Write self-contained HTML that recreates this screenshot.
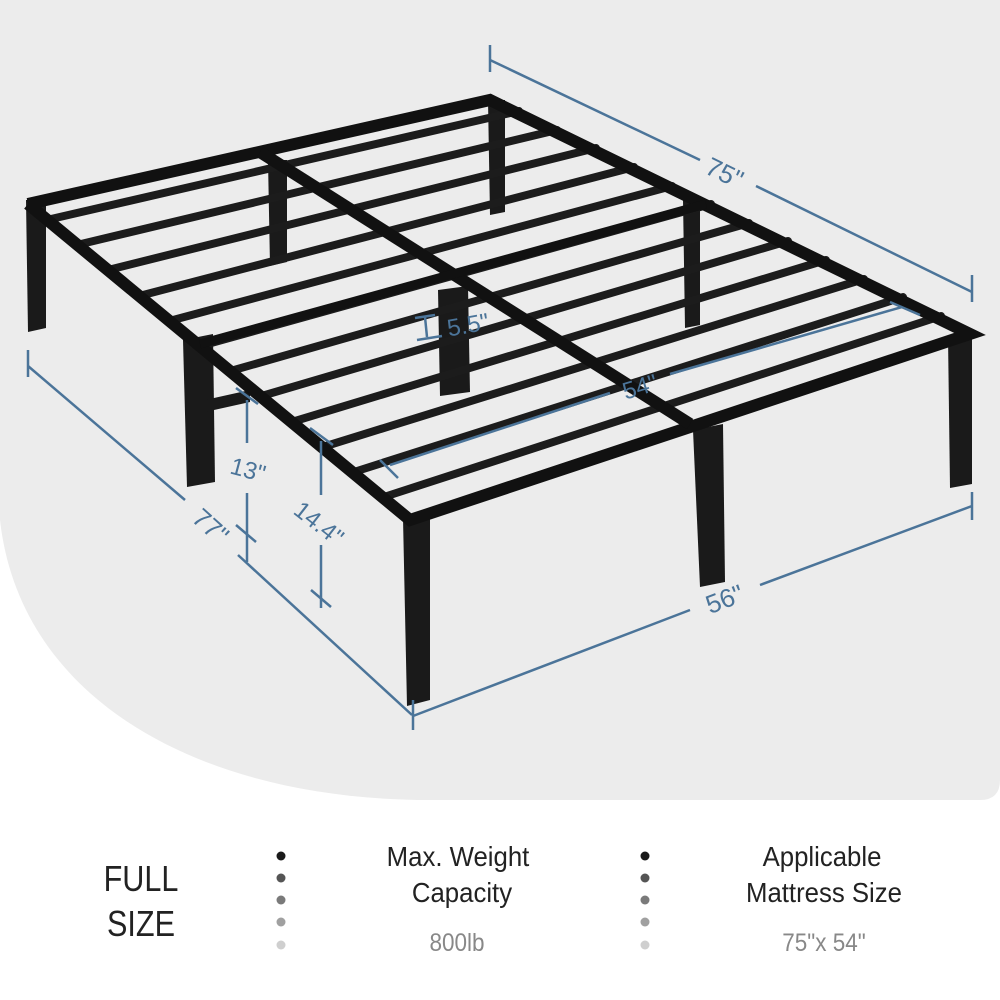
<!DOCTYPE html>
<html><head><meta charset="utf-8"><style>
html,body{margin:0;padding:0;background:#fff;width:1000px;height:1000px;overflow:hidden}
svg{display:block}
</style></head><body>
<svg width="1000" height="1000" viewBox="0 0 1000 1000" xmlns="http://www.w3.org/2000/svg">
<path d="M0 0 H1000 V780 Q1000 800 980 800 H430 C200 800 20 700 0 520 Z" fill="#ececec"/>
<g fill="#1a1a1a">
<polygon points="26,200 46,200 46,328 28,332"/>
<polygon points="268,160 287,160 287,262 270,266"/>
<polygon points="488,100 505,100 505,212 490,215"/>
<polygon points="183,340 213,334 215,482 187,487"/>
<polygon points="438,290 468,286 470,392 440,396"/>
<polygon points="683,200 700,198 700,325 685,328"/>
<polygon points="403,518 430,512 430,700 407,706"/>
<polygon points="693,430 723,424 725,582 700,587"/>
<polygon points="948,336 972,330 972,484 950,488"/>
<polygon points="205,400 250,390 250,402 205,412"/>
</g>
<g stroke="#1c1c1c" stroke-width="8" stroke-linecap="round">
<line x1="51" y1="219" x2="519" y2="111"/>
<line x1="81" y1="244" x2="557" y2="130"/>
<line x1="112" y1="269" x2="596" y2="148"/>
<line x1="143" y1="295" x2="634" y2="167"/>
<line x1="173" y1="320" x2="672" y2="186"/>
<line x1="204" y1="345" x2="711" y2="204"/>
<line x1="234" y1="370" x2="749" y2="223"/>
<line x1="265" y1="395" x2="788" y2="241"/>
<line x1="295" y1="421" x2="826" y2="260"/>
<line x1="326" y1="446" x2="864" y2="279"/>
<line x1="357" y1="471" x2="903" y2="297"/>
<line x1="387" y1="496" x2="941" y2="316"/>
</g>
<g stroke="#111" stroke-width="12" stroke-linejoin="miter" fill="none">
<polyline points="28,204 490,100 970,334 410,520 28,204"/>
<line x1="260" y1="152" x2="690" y2="424"/>
</g>
<line x1="200" y1="344" x2="706" y2="204" stroke="#111" stroke-width="9"/>
<g stroke="#4b7499" stroke-width="2.5" fill="none">
<line x1="490" y1="60" x2="700" y2="160"/>
<line x1="756" y1="186" x2="972" y2="292"/>
<line x1="490" y1="45" x2="490" y2="72"/>
<line x1="972" y1="275" x2="972" y2="302"/>
<line x1="28" y1="366" x2="185" y2="500"/>
<line x1="238" y1="555" x2="412" y2="715"/>
<line x1="28" y1="350" x2="28" y2="377"/>
<line x1="413" y1="716" x2="690" y2="610"/>
<line x1="760" y1="585" x2="972" y2="506"/>
<line x1="413" y1="700" x2="413" y2="730"/>
<line x1="972" y1="492" x2="972" y2="520"/>
<line x1="247" y1="400" x2="247" y2="443"/>
<line x1="247" y1="493" x2="247" y2="562"/>
<line x1="236" y1="388" x2="258" y2="404"/>
<line x1="236" y1="525" x2="256" y2="542"/>
<line x1="321" y1="441" x2="321" y2="495"/>
<line x1="321" y1="545" x2="321" y2="608"/>
<line x1="310" y1="428" x2="333" y2="445"/>
<line x1="311" y1="590" x2="331" y2="607"/>
<line x1="390" y1="465" x2="610" y2="393"/>
<line x1="670" y1="374" x2="902" y2="307"/>
<line x1="380" y1="460" x2="398" y2="478"/>
<line x1="890" y1="302" x2="920" y2="315"/>
<line x1="415" y1="318" x2="435" y2="315"/>
<line x1="425" y1="317" x2="427" y2="337"/>
<line x1="417" y1="340" x2="442" y2="336"/>
</g>
<g fill="#4b7499" font-family="Liberation Sans, sans-serif" font-size="26">
<text x="725" y="182" transform="rotate(26 725 172)" text-anchor="middle">75"</text>
<text x="210" y="535" transform="rotate(42 210 527)" text-anchor="middle">77"</text>
<text x="725" y="608" transform="rotate(-21 725 600)" text-anchor="middle">56"</text>
<text x="248" y="478" transform="rotate(15 248 470)" text-anchor="middle" font-size="24">13"</text>
<text x="320" y="532" transform="rotate(38 320 522)" text-anchor="middle" font-size="24">14.4"</text>
<text x="468" y="333" transform="rotate(-10 468 325)" text-anchor="middle" font-size="24">5.5"</text>
<text x="640" y="395" transform="rotate(-17 640 387)" text-anchor="middle" font-size="24">54"</text>
</g>
<g font-family="Liberation Sans, sans-serif" text-anchor="middle">
<text x="141" y="891" font-size="36" fill="#222" transform="translate(141 0) scale(0.85 1) translate(-141 0)">FULL</text>
<text x="141" y="936" font-size="36" fill="#222" transform="translate(141 0) scale(0.85 1) translate(-141 0)">SIZE</text>
<text x="458" y="866" font-size="28" fill="#222" transform="translate(458 0) scale(0.92 1) translate(-458 0)">Max. Weight</text>
<text x="462" y="902" font-size="28" fill="#222" transform="translate(462 0) scale(0.92 1) translate(-462 0)">Capacity</text>
<text x="457" y="951" font-size="25" fill="#888" transform="translate(457 0) scale(0.9 1) translate(-457 0)">800lb</text>
<text x="822" y="866" font-size="28" fill="#222" transform="translate(822 0) scale(0.92 1) translate(-822 0)">Applicable</text>
<text x="824" y="902" font-size="28" fill="#222" transform="translate(824 0) scale(0.92 1) translate(-824 0)">Mattress Size</text>
<text x="824" y="951" font-size="25" fill="#888" transform="translate(824 0) scale(0.9 1) translate(-824 0)">75"x 54"</text>
</g>
<g>
<circle cx="281" cy="856" r="4.5" fill="#1a1a1a"/>
<circle cx="281" cy="878" r="4.5" fill="#555"/>
<circle cx="281" cy="900" r="4.5" fill="#7a7a7a"/>
<circle cx="281" cy="922" r="4.5" fill="#a0a0a0"/>
<circle cx="281" cy="945" r="4.5" fill="#cfcfcf"/>
<circle cx="645" cy="856" r="4.5" fill="#1a1a1a"/>
<circle cx="645" cy="878" r="4.5" fill="#555"/>
<circle cx="645" cy="900" r="4.5" fill="#7a7a7a"/>
<circle cx="645" cy="922" r="4.5" fill="#a0a0a0"/>
<circle cx="645" cy="945" r="4.5" fill="#cfcfcf"/>
</g>
</svg>
</body></html>
